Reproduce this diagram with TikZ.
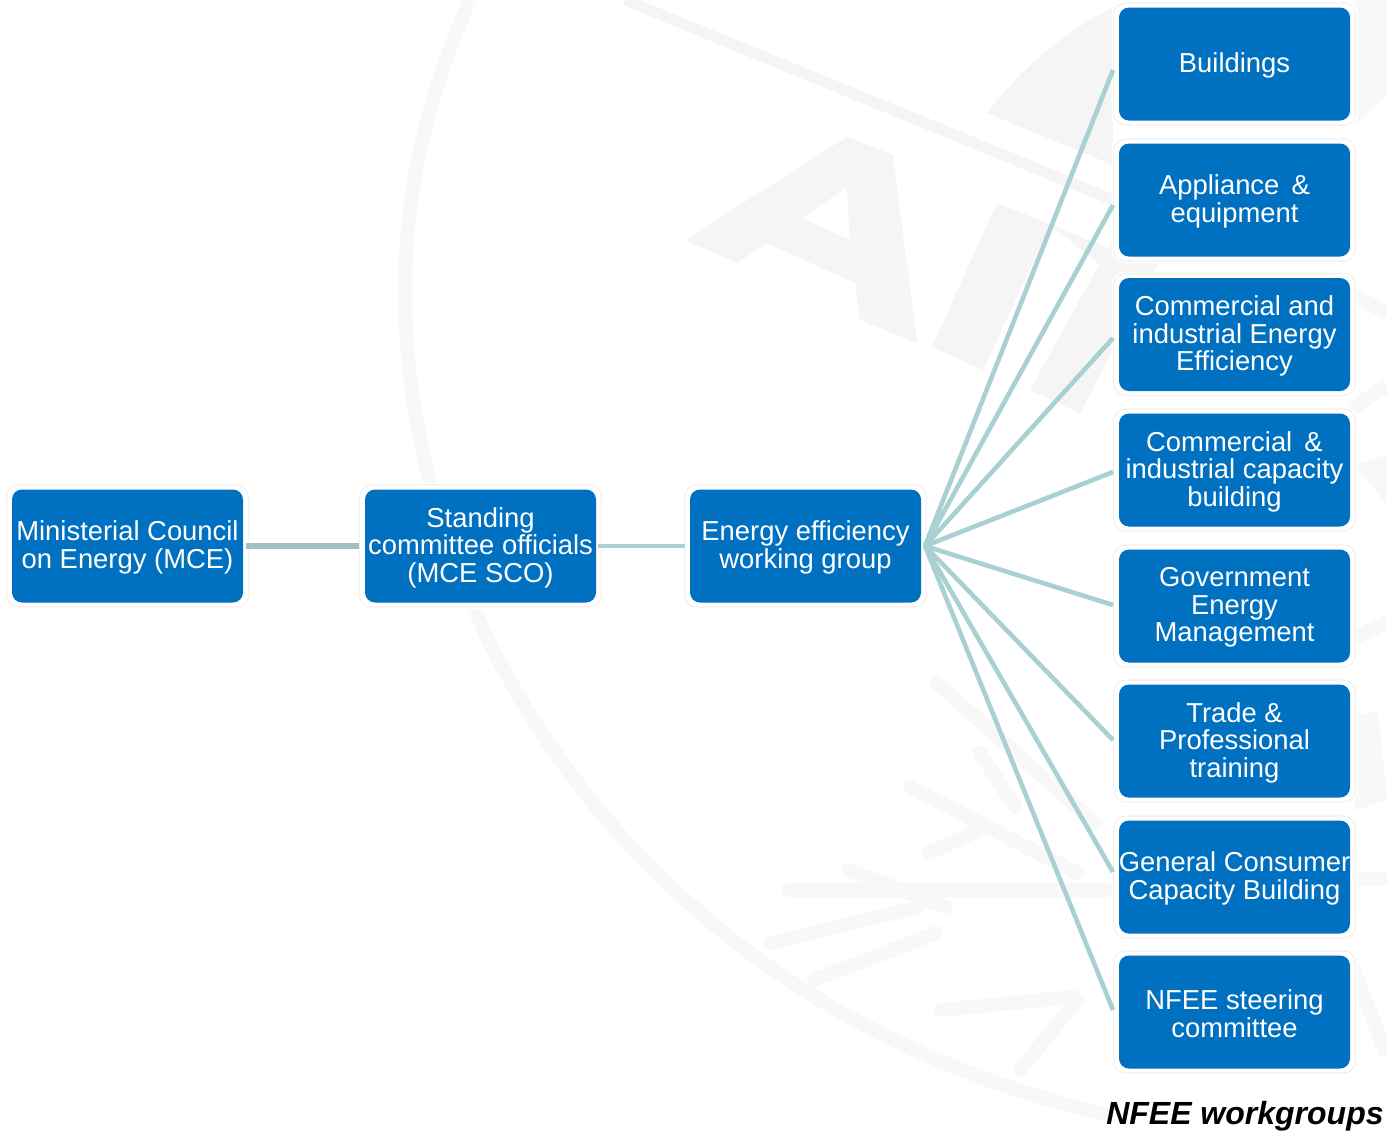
\documentclass[tikz,border=0pt]{standalone}
\usepackage{fontspec}
\setmainfont{Liberation Sans}
\definecolor{boxblue}{HTML}{0070C0}
\definecolor{linkteal}{HTML}{A9D0D2}
\definecolor{linkdark}{HTML}{A0C0C4}
\definecolor{wm}{HTML}{F5F5F5}
\definecolor{wmsoft}{HTML}{F8F8F8}
\definecolor{halo}{HTML}{F1F1F1}
\newlength{\pxu}\setlength{\pxu}{0.5pt}
\tikzset{
 orgbox/.style={fill=boxblue,rounded corners=5pt,minimum width=231\pxu,minimum height=113\pxu,inner sep=0pt},
 orgtext/.style={align=center,text=white,inner sep=0pt,font=\fontsize{13.7}{13.75}\selectfont},
 link/.style={draw=linkteal,line width=2.3pt},
 hub/.style={draw=linkdark,line width=3pt},
 flake/.style={draw=wmsoft,line width=7pt,line cap=round},
 band/.style={draw=wmsoft,line width=7pt},
}
\newcommand{\orgnode}[4]{%
 \fill[white,rounded corners=6pt] (#2-123,#3-63) rectangle (#2+123,#3+63);
 \draw[halo,line width=0.6pt,rounded corners=6pt] (#2-121,#3-61) rectangle (#2+121,#3+61);
 \node[orgbox] (#1) at (#2,#3) {};
 \node[orgtext] (#1t) at (#2,#3+1.5) {#4};}
\begin{document}
\begin{tikzpicture}[x=0.5pt,y=-0.5pt]
\useasboundingbox (0,0) rectangle (1387,1132);
\fill[white] (0,0) rectangle (1387,1132);
% watermark: ring
\draw[wmsoft,line width=7pt] (470,0) .. controls (430,90) and (407,180) .. (405,280) .. controls (400,620) and (640,1010) .. (1110,1115);
\draw[wm,line width=5.5pt] (625,0) -- (1113,200);
% letters
\fill[wm,even odd rule] (685,240) -- (847,137) -- (893,155) -- (917,343) -- (860,320) -- (855,283) -- (767,243) -- (737,263) -- cycle
  (847,187) -- (850,240) -- (802,218) -- cycle;
\fill[wm] (997,203) -- (1113,250) -- (1113,275) -- (1050,225) -- (983,370) -- (932,347) -- cycle;
\fill[wm] (1030,390) -- (1113,240) -- (1160,260) -- (1080,413) -- cycle;
\fill[wm] (987,113) .. controls (1020,70) and (1060,35) .. (1113,7) -- (1113,165) -- cycle;
% watermark: right margin
\fill[wmsoft] (1355,0) -- (1387,0) -- (1387,95) -- (1355,125) -- cycle;
\draw[band] (1350,295) -- (1387,312);
\draw[band] (1350,410) -- (1387,385);
\fill[wmsoft] (1355,465) -- (1387,455) -- (1387,505) -- cycle;
\draw[band] (1350,640) -- (1387,622);
\fill[wmsoft] (1355,715) -- (1378,712) -- (1387,800) -- (1355,810) -- cycle;
\draw[band] (1350,880) -- (1387,878);
\draw[band] (1350,960) -- (1387,1055);
% watermark: flake
\draw[flake] (788,890) -- (1116,890);
\draw[flake] (770,943) -- (919,907);
\draw[flake] (849,870) -- (945,907);
\draw[flake] (814,980) -- (936,933);
\draw[flake] (910,787) -- (1077,873);
\draw[flake] (937,683) -- (1095,823);
\draw[flake] (928,853) -- (980,830);
\draw[flake] (980,753) -- (1015,807);
\draw[flake] (941,1010) -- (1073,997);
\draw[flake] (1020,1070) -- (1077,1000);
\coordinate (hubpt) at (925,546);
\orgnode{mce}{127.5}{546}{Ministerial Council\\on Energy (MCE)}
\orgnode{sco}{480.5}{546}{Standing\\committee officials\\(MCE SCO)}
\orgnode{ee}{805.5}{546}{Energy efficiency\\working group}
\orgnode{b1}{1234.5}{64}{Buildings}
\orgnode{b2}{1234.5}{200}{Appliance \,\&\\equipment}
\orgnode{b3}{1234.5}{334.5}{Commercial and\\industrial Energy\\Efficiency}
\orgnode{b4}{1234.5}{470}{Commercial \,\&\\industrial capacity\\building}
\orgnode{b5}{1234.5}{606}{Government\\Energy\\Management}
\orgnode{b6}{1234.5}{741}{Trade \&\\Professional\\training}
\orgnode{b7}{1234.5}{877}{General Consumer\\Capacity Building}
\orgnode{b8}{1234.5}{1012}{NFEE steering\\committee}
\draw[hub] ([xshift=1.5pt]mce.east) -- ([xshift=-3pt]sco.west);
\draw[link] ([xshift=1pt]sco.east) -- ([xshift=-2.5pt]ee.west);
\coordinate (e1) at (1113,70);
\coordinate (e2) at (1113,205);
\coordinate (e3) at (1113,338);
\coordinate (e4) at (1113,472);
\coordinate (e5) at (1113,605);
\coordinate (e6) at (1113,740);
\coordinate (e7) at (1113,872);
\coordinate (e8) at (1113,1010);
\foreach \e in {e1,e2,e3,e4,e5,e6,e7,e8}{\draw[link] (hubpt) -- (\e);}
\node[anchor=south east,inner sep=0pt,font=\fontsize{16}{16}\selectfont\bfseries\itshape] (cap) at (1384,1132) {NFEE workgroups};
\end{tikzpicture}
\end{document}
